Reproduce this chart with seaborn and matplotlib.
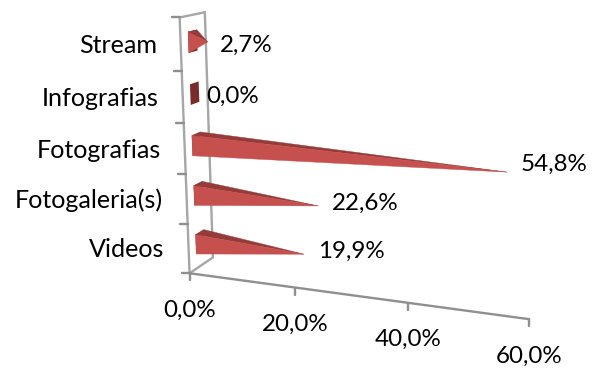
import numpy as np
import matplotlib
matplotlib.use("Agg")
import matplotlib.pyplot as plt
from matplotlib.patches import Polygon
from matplotlib.transforms import Affine2D
import seaborn as sns

categories = ["Stream", "Infografias", "Fotografias", "Fotogaleria(s)", "Videos"]
values = [2.7, 0.0, 54.8, 22.6, 19.9]
value_labels = ["2,7%", "0,0%", "54,8%", "22,6%", "19,9%"]
axis_ticks = [0, 20, 40, 60]
axis_tick_labels = ["0,0%", "20,0%", "40,0%", "60,0%"]

DEPTH_LOW, DEPTH_HIGH = 0.30, 0.65
# camera calibration of the 3-D frame: (value, slot, depth) -> reference pixel
calib = [
    ((0, 0, 0), (190, 273)), ((20, 0, 0), (296, 288)), ((40, 0, 0), (408, 303)),
    ((60, 0, 0), (529, 319)), ((0, 1, 0), (187, 223)), ((0, 2, 0), (185, 173)),
    ((0, 3, 0), (183, 123)), ((0, 4, 0), (182, 71)), ((0, 5, 0), (180, 18)),
    ((0, 0, 1), (213, 257)), ((0, 5, 1), (204, 12)),
    ((19.9, 0.5, 0.5), (303, 254)), ((22.6, 1.5, 0.5), (318, 206)),
    ((54.8, 2.5, 0.5), (507, 172)), ((2.7, 4.5, 0.5), (207, 42)),
    ((0, 0.3, DEPTH_LOW), (196, 254)), ((0, 0.7, DEPTH_LOW), (196, 235)),
    ((0, 0.7, DEPTH_HIGH), (204, 230)),
    ((0, 1.3, DEPTH_LOW), (194, 206)), ((0, 1.7, DEPTH_LOW), (194, 187)),
    ((0, 1.7, DEPTH_HIGH), (202, 181)),
    ((0, 2.3, DEPTH_LOW), (192, 157)), ((0, 2.7, DEPTH_LOW), (192, 136)),
    ((0, 2.7, DEPTH_HIGH), (202, 132)),
    ((0, 4.3, DEPTH_LOW), (189, 53)), ((0, 4.7, DEPTH_LOW), (188, 32)),
    ((0, 4.7, DEPTH_HIGH), (198, 29)),
]
scale = np.array([60.0, 5.0, 1.0])
rows = []
for (X, (u, v)) in calib:
    P = list(np.array(X) / scale) + [1.0]
    rows.append(P + [0, 0, 0, 0] + [-u * p for p in P])
    rows.append([0, 0, 0, 0] + P + [-v * p for p in P])
M = np.linalg.svd(np.array(rows))[2][-1].reshape(3, 4)


def project(val, slot, depth):
    h = M @ np.array([val / 60.0, slot / 5.0, depth, 1.0])
    return h[0] / h[2], h[1] / h[2]


plt.rcParams["font.family"] = ["Lato", "DejaVu Sans"]
FS = 17.4
FS_CAT = 18.1
WALL = "#A6A6A6"
AXC = "#8F8F8F"
FRONT = "#C5504E"
TOP = "#953C3A"
BASE = "#772C2A"
LABEL_DX = [12, 11, 14, 14, 14]
LABEL_DY = [3, 3, -8, -3, -3]

fig = plt.figure(figsize=(5.99, 3.70), dpi=100, facecolor="white")
ax = fig.add_axes([0, 0, 1, 1])
sns.barplot(x=values, y=categories, width=0.4, color=FRONT, ax=ax)
bars = list(ax.patches)
ax.set_xlim(0, 60)
ax.autoscale(False)
ax.axis("off")
px = Affine2D().scale(1, -1).translate(0, 370)


def line(a, b, color, z=1, lw=1.7):
    (x0, y0), (x1, y1) = a, b
    ax.plot([x0, x1], [y0, y1], color=color, lw=lw, transform=px, zorder=z,
            clip_on=False, solid_capstyle="round")


n = len(categories)
line(project(0, 0, 1), project(0, 5, 1), WALL)
line(project(0, 5, 0), project(0, 5, 1), WALL)
line(project(0, 0, 0), project(0, 0, 1), WALL)
line(project(0, 0, 0), project(0, 5, 0), WALL)
line(project(0, 0, 0), project(60, 0, 0), AXC)
for c in range(n + 1):
    x, y = project(0, c, 0)
    line((x - 8, y), (x, y), AXC)
for t, lab in zip(axis_ticks, axis_tick_labels):
    x, y = project(t, 0, 0)
    line((x, y), (x, y + 7), AXC)
    ax.text(x, y + 37, lab, transform=px, ha="center", va="center", fontsize=FS, color="black")

for i, bar in enumerate(bars):
    bar.set_visible(False)
    val = bar.get_width()
    half = bar.get_height() / 2
    slot = n - 1 - i + 0.5
    fl, fh = slot - half, slot + half
    tip = project(val, slot, 0.5)
    a = project(0, fl, DEPTH_LOW)
    b = project(0, fh, DEPTH_LOW)
    c = project(0, fh, DEPTH_HIGH)
    d = project(0, fl, DEPTH_HIGH)
    ax.add_patch(Polygon([a, b, c, d], closed=True, fc=BASE, ec="none", transform=px, zorder=3, clip_on=False))
    if val > 0:
        ax.add_patch(Polygon([b, c, tip], closed=True, fc=TOP, ec=TOP, lw=0.3, transform=px, zorder=4, clip_on=False))
        ax.add_patch(Polygon([a, b, tip], closed=True, fc=FRONT, ec=FRONT, lw=0.3, transform=px, zorder=5, clip_on=False))
    ax.text(tip[0] + LABEL_DX[i], tip[1] + LABEL_DY[i], value_labels[i], transform=px, ha="left", va="center",
            fontsize=FS, color="black", zorder=6)
    lx, ly = project(0, slot, 0)
    ax.text(lx - 24, ly + 1, categories[i], transform=px, ha="right", va="center",
            fontsize=FS_CAT, color="black", zorder=6)

fig.savefig("out.png", dpi=100, facecolor="white")
